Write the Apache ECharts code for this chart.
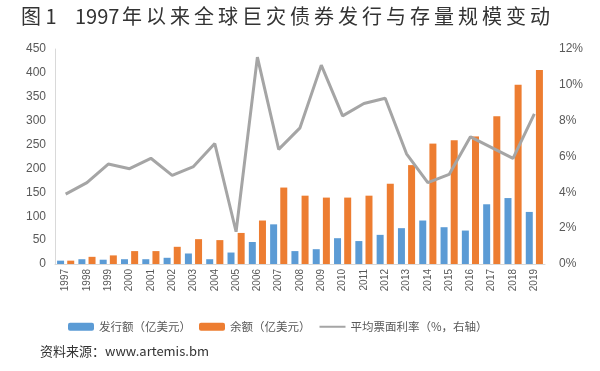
<!DOCTYPE html>
<html><head><meta charset="utf-8">
<script src="https://cdn.jsdelivr.net/npm/echarts@6/dist/echarts.min.js"></script>
<style>html,body{margin:0;padding:0;background:#fff}#c{width:600px;height:371px}</style>
</head><body><div id="c"></div>
<script>
const years = ['1997','1998','1999','2000','2001','2002','2003','2004','2005','2006','2007','2008','2009','2010','2011','2012','2013','2014','2015','2016','2017','2018','2019'];
const issuance = [7,10,9,10,10,13,22,10,24,46,83,27,31,54,48,61,75,91,77,70,125,138,109];
const outstanding = [7,15,18,27,27,36,52,50,65,91,160,143,139,139,143,168,207,252,259,267,309,375,406];
const coupon = [3.9,4.54,5.58,5.32,5.9,4.95,5.44,6.72,1.8,11.55,6.4,7.6,11.1,8.27,8.96,9.25,6.15,4.54,5.0,7.1,6.5,5.9,8.38];
const leftTicks = {min:0,max:450,interval:50};
const rightTicks = {min:0,max:0.12,interval:0.02};
const names = ['发行额（亿美元）','余额（亿美元）','平均票面利率（%，右轴）'];
const titleHead = '图 1';
const titleYear = '1997';
const titleBody = '年以来全球巨灾债券发行与存量规模变动';
const sourceText = '资料来源：www.artemis.bm';

const spaced = titleBody.split('').join('\u2009');
const chart = echarts.init(document.getElementById('c'));
const axisLabelStyle = {color:'#595959', fontSize:12, fontFamily:'Liberation Sans, Arial, sans-serif'};
const tStyle = {fontSize:20, fill:'#333', fontFamily:'Noto Sans CJK SC'};
chart.setOption({
  animation:false,
  graphic:[
    {type:'text', left:21, top:6, style:Object.assign({text:titleHead}, tStyle)},
    {type:'text', left:75, top:6, style:Object.assign({text:titleYear}, tStyle)},
    {type:'text', left:122, top:6, style:Object.assign({text:spaced}, tStyle)},
    {type:'text', left:40, top:345, style:{text:sourceText, fontSize:13, fill:'#333', fontFamily:'Noto Sans CJK SC'}}
  ],
  legend:{data:[{name:names[0]},{name:names[1]},{name:names[2], itemStyle:{opacity:0}}], left:63, top:316, itemWidth:26, itemHeight:8, itemGap:8,
    textStyle:{fontSize:11.5, color:'#595959', fontFamily:'Noto Sans CJK SC'}},
  grid:{left:55, right:55, top:49, bottom:107, containLabel:false},
  xAxis:{type:'category', data:years, axisLine:{lineStyle:{color:'#d9d9d9'}}, axisTick:{show:false},
    axisLabel:Object.assign({}, axisLabelStyle, {rotate:90, fontSize:10, interval:0, margin:5})},
  yAxis:[
    {type:'value', min:leftTicks.min, max:leftTicks.max, interval:leftTicks.interval, splitLine:{show:false},
     axisLine:{show:true, lineStyle:{color:'#d9d9d9'}}, axisTick:{show:false}, axisLabel:Object.assign({}, axisLabelStyle, {margin:9})},
    {type:'value', min:rightTicks.min, max:rightTicks.max, interval:rightTicks.interval, splitLine:{show:false},
     axisLine:{show:false}, axisTick:{show:false},
     axisLabel:Object.assign({}, axisLabelStyle, {margin:14, formatter:v=>Math.round(v*100)+'%'})}
  ],
  series:[
    {name:names[0], type:'bar', data:issuance, barWidth:7, barGap:'45%', itemStyle:{color:'#5B9BD5'}},
    {name:names[1], type:'bar', data:outstanding, barWidth:7, itemStyle:{color:'#ED7D31'}},
    {name:names[2], type:'line', yAxisIndex:1, data:coupon.map(v=>v/100), symbol:'none',
     lineStyle:{color:'#A5A5A5', width:3}, itemStyle:{color:'#A5A5A5'}, z:5}
  ]
});
</script></body></html>
